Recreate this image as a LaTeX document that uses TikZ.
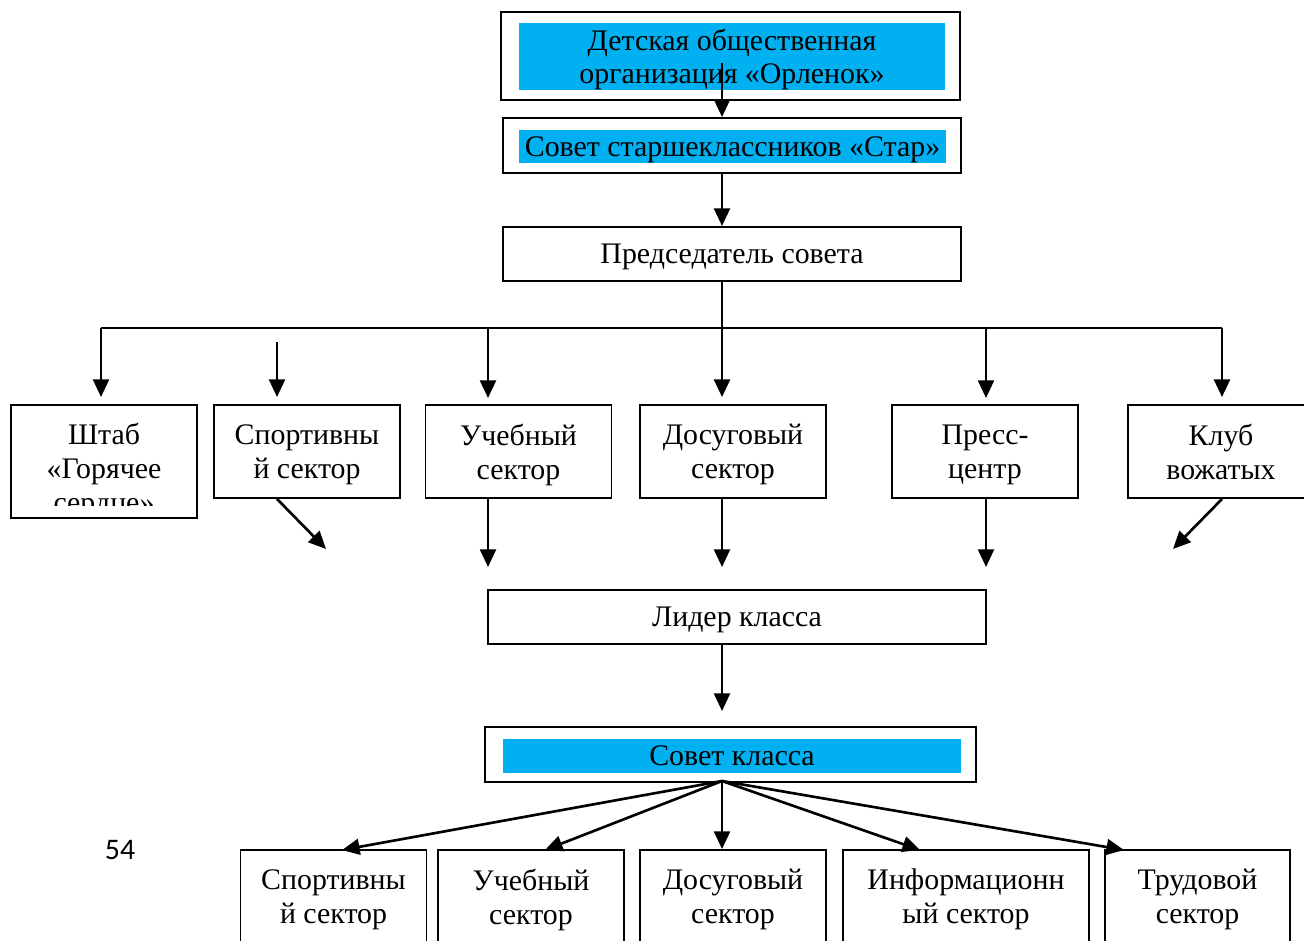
\documentclass[tikz,border=0pt]{standalone}
\usepackage{fontspec}
\setmainfont{Liberation Serif}
\newfontfamily\pagefont{Carlito}
\usepackage{tikz}
\usetikzlibrary{arrows.meta}
\definecolor{skyblue}{HTML}{00B0F0}

\begin{document}
\begin{tikzpicture}[x=0.02cm,y=-0.02cm,
  box/.style={draw,line width=1.1pt,align=center,inner sep=0pt,
    minimum width=3.72cm,minimum height=1.86cm,text depth=0pt,
    font=\fontsize{17}{19.3}\selectfont},
  bluebox/.style={fill=skyblue,align=center,inner sep=0pt,text depth=0pt,
    font=\fontsize{17}{18.5}\selectfont},
  arr/.style={-{Triangle[length=10pt,width=9pt]},line width=1.5pt}]
\useasboundingbox (0,0) rectangle (1304,940);
\clip (0,0) rectangle (1304,940);

\node[box,minimum width=9.18cm,minimum height=1.76cm] (org) at (730.5,56) {};
\node[bluebox,minimum width=8.52cm,minimum height=1.34cm] (orgfill) at (732,56.5)
  {Детская общественная\\организация «Орленок»};
\node[box,minimum width=9.16cm,minimum height=1.1cm] (council) at (732,145.5) {};
\node[bluebox,minimum width=8.54cm,minimum height=0.66cm] (councilfill) at (732.5,146.5)
  {Совет старшеклассников «Стар»};
\node[box,minimum width=9.16cm,minimum height=1.08cm] (chair) at (732,254) {Председатель совета};

\node[box,minimum height=2.26cm] (shtab) at (104,461.5) {};
\begin{scope}
\clip (11,405) rectangle (197,505);
\node[font=\fontsize{17}{19.3}\selectfont,align=center] (shtabtext) at (104,471)
  {Штаб\\«Горячее\\сердце»};
\end{scope}
\node[box] (sport) at (307,451.5) {Спортивны\\й сектор};
\node[box] (study) at (518.5,451.5) {Учебный\\сектор};
\node[box] (leisure) at (733,451.5) {Досуговый\\сектор};
\node[box] (press) at (985,451.5) {Пресс-\\центр};
\node[box] (club) at (1221,451.5) {Клуб\\вожатых};

\coordinate (orgstart) at (722,63);
\coordinate (bl) at (101,328);
\coordinate (br) at (1222,328);
\coordinate (busmid) at (722,328);
\coordinate (sportstart) at (277,342);

\draw[arr] (orgstart) -- (orgstart |- council.north);
\draw[arr] (council.south -| orgstart) -- (chair.north -| orgstart);
\draw[line width=1.5pt] (chair.south -| orgstart) -- (busmid);
\draw[line width=1.5pt] (bl) -- (br);
\draw[arr,shorten >=0.14cm] (bl) -- (bl |- shtab.north);
\draw[arr,shorten >=0.14cm] (sportstart) -- (sportstart |- sport.north);
\draw[arr,shorten >=0.14cm] (488,328) -- (488,405);
\draw[arr,shorten >=0.14cm] (busmid) -- (busmid |- leisure.north);
\draw[arr,shorten >=0.14cm] (986,328) -- (986,405);
\draw[arr,shorten >=0.14cm] (br) -- (br |- club.north);

\node[box,minimum width=9.96cm,minimum height=1.08cm] (leader) at (737,617) {Лидер класса};

\draw[arr] (sport.south -| sportstart) -- ++(49,50);
\draw[arr] (488,498) -- (488,567);
\draw[arr] (leisure.south -| busmid) -- (722,567);
\draw[arr] (986,498) -- (986,567);
\draw[arr] (club.south -| br) -- ++(-49,50);

\node[box,minimum width=9.82cm,minimum height=1.1cm] (classcouncil) at (730.5,754.5) {};
\node[bluebox,minimum width=9.16cm,minimum height=0.68cm] (classfill) at (732,756) {Совет класса};
\draw[arr] (leader.south -| busmid) -- (722,711);

\node[box] (bsport) at (333.5,896.5) {Спортивны\\й сектор};
\node[box] (bstudy) at (531,896.5) {Учебный\\сектор};
\node[box] (bleisure) at (733,896.5) {Досуговый\\сектор};
\node[box,minimum width=4.92cm] (binfo) at (966,896.5) {Информационн\\ый сектор};
\node[box,minimum width=3.7cm] (blabour) at (1197.5,896.5) {Трудовой\\сектор};

\coordinate (fan) at (722,781);
\draw[arr] (fan) -- (342,850);
\draw[arr] (fan) -- (545,850);
\draw[arr] (fan) -- (fan |- bleisure.north);
\draw[arr] (fan) -- (920,850);
\draw[arr] (fan) -- (1124,850);

\node[font=\pagefont\fontsize{17}{20}\selectfont] (pagenum) at (120,850) {54};
\end{tikzpicture}
\end{document}
